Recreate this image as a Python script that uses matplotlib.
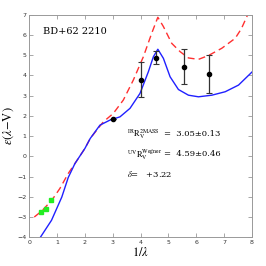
import matplotlib
matplotlib.use('Agg')
import matplotlib.pyplot as plt

# curve: R_V = 3.05 (red dashed)
red_x = [0.18, 0.45, 0.81, 1.10, 1.40, 1.64, 2.0, 2.19, 2.40, 2.66, 3.02, 3.38, 3.74, 4.10, 4.40,
         4.62, 4.82, 5.12, 5.42, 5.72, 6.08, 6.44, 6.92, 7.40, 7.62, 7.85]
red_y = [-3.0, -2.70, -2.17, -1.59, -0.85, -0.36, 0.39, 0.88, 1.25, 1.70, 2.12, 2.78, 3.77, 4.92, 6.08,
         6.87, 6.41, 5.58, 5.17, 4.86, 4.79, 4.98, 5.34, 5.83, 6.3, 7.0]

# curve: R_V = 4.59 (blue solid)
blue_x = [0.40, 0.80, 1.17, 1.40, 1.64, 2.0, 2.19, 2.54, 2.90, 3.26, 3.62, 3.98, 4.28, 4.46,
          4.62, 4.82, 5.06, 5.36, 5.72, 6.08, 6.56, 7.04, 7.52, 8.0]
blue_y = [-4.0, -3.16, -2.01, -1.05, -0.36, 0.39, 0.88, 1.54, 1.79, 1.95, 2.37, 3.11, 4.18, 4.92,
          5.29, 4.84, 3.93, 3.30, 3.02, 2.94, 3.02, 3.19, 3.52, 4.16]

# UV photometry with errors
uv_x = [3.02, 4.0, 4.55, 5.56, 6.47]
uv_y = [1.85, 3.78, 4.86, 4.43, 4.08]
uv_err = [0.0, 0.86, 0.32, 0.87, 0.95]

# 2MASS points
ir_x = [0.43, 0.59, 0.78]
ir_y = [-2.73, -2.6, -2.17]

star = "BD+62 2210"
txt_ir = r'$^{\mathrm{IR}}\mathrm{R}_{\mathrm{V}}^{\mathrm{2MASS}}$'
txt_uv = r'$^{\mathrm{UV}}\mathrm{R}_{\mathrm{V}}^{\mathrm{Wegner}}$'
val_ir = "3.05\u00b10.13"
val_uv = "4.59\u00b10.46"
val_delta = "+3.22"

plt.rcParams['mathtext.fontset'] = 'stix'

fig = plt.figure(figsize=(2.66, 2.66), dpi=100)
ax = fig.add_axes([0.110, 0.108, 0.837, 0.837])

ax.plot(red_x, red_y, color='#ff3030', lw=1.0, ls=(0, (5, 3)))
ax.plot(blue_x, blue_y, color='#2020ff', lw=1.0)
ax.errorbar(uv_x, uv_y, yerr=uv_err, fmt='o', color='black', ms=3, ecolor='#333333',
            elinewidth=0.9, capsize=2, capthick=0.8)
ax.plot(ir_x, ir_y, 's', color='#22ee22', ms=3.2)

ax.set_xlim(0, 8)
ax.set_ylim(-4, 7)
ax.set_xticks(range(0, 9))
ax.set_yticks(range(-4, 8))
ax.tick_params(direction='in', length=3, width=0.6, colors='#999999', labelcolor='#333333',
               labelsize=4.5, top=True, right=True, pad=2)
for s in ax.spines.values():
    s.set_color('#999999')
    s.set_linewidth(0.7)

ax.set_xlabel(r'$1/\lambda$', fontsize=9, labelpad=1)
ax.set_ylabel(r'$\epsilon(\lambda\mathrm{-V})$', fontsize=9, labelpad=1)

ax.text(0.5, 6.17, star, fontsize=7, family='DejaVu Serif', va='center')
ax.text(3.5, 1.09, txt_ir, fontsize=6, va='center')
ax.text(4.85, 1.09, "=  " + val_ir, fontsize=6, family='DejaVu Serif', va='center')
ax.text(3.5, 0.10, txt_uv, fontsize=6, va='center')
ax.text(4.85, 0.10, "=  " + val_uv, fontsize=6, family='DejaVu Serif', va='center')
ax.text(3.5, -0.85, r'$\delta$=   ' + val_delta, fontsize=6, family='DejaVu Serif', va='center')

fig.savefig('out.png', dpi=100)
